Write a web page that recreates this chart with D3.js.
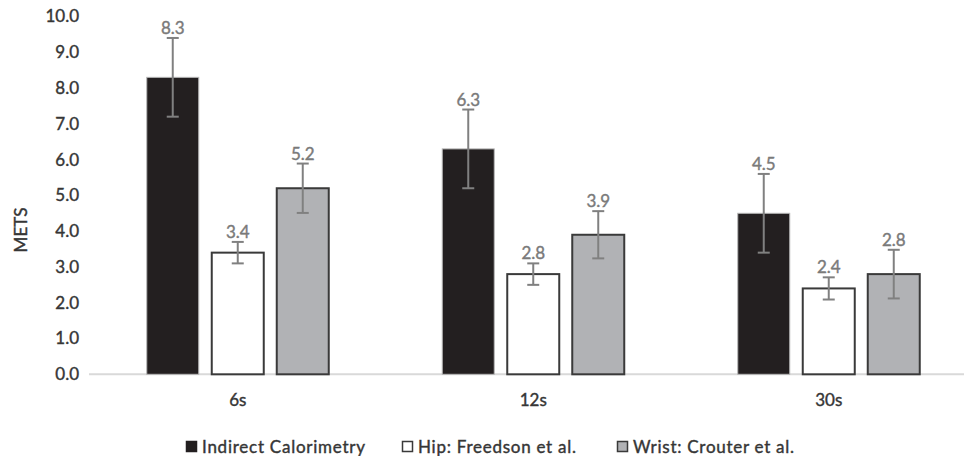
<!DOCTYPE html>
<html>
<head>
<meta charset="utf-8">
<script src="https://cdn.jsdelivr.net/npm/d3@7"></script>
<style>
  html, body { margin: 0; padding: 0; background: #fff; }
  svg text { font-family: Lato, "Open Sans", sans-serif; }
</style>
</head>
<body>
<svg id="chart" width="964" height="456"></svg>
<script>
// Measurement windows
const categories = ["6s", "12s", "30s"];
// Methods compared
const seriesNames = ["Indirect Calorimetry", "Hip: Freedson et al.", "Wrist: Crouter et al."];
// Mean METs per method, one array per method, in category order
const calorimetry = [8.3, 6.3, 4.5];
const hipFreedson = [3.4, 2.8, 2.4];
const wristCrouter = [5.2, 3.9, 2.8];
// Standard deviations (error bars)
const calorimetrySd = [1.1, 1.1, 1.1];
const hipFreedsonSd = [0.3, 0.3, 0.31];
const wristCrouterSd = [0.69, 0.66, 0.68];
// Y axis ticks
const yTicks = [0, 1, 2, 3, 4, 5, 6, 7, 8, 9, 10];

const seriesValues = [calorimetry, hipFreedson, wristCrouter];
const seriesSd = [calorimetrySd, hipFreedsonSd, wristCrouterSd];

const fills = ["#231f20", "#ffffff", "#b1b2b5"];
const strokes = ["#b8b8b8", "#3a3a3a", "#3a3a3a"];
const textDark = "#363636";

const svg = d3.select("#chart");

const y = d3.scaleLinear().domain([0, 10]).range([374.3, 16.5]);
const x0 = d3.scaleBand().domain(categories).range([90, 976.5]).padding(0);
const x1 = d3.scaleBand().domain(seriesNames).range([-97.5, 97.5])
  .paddingInner(0.2).paddingOuter(0.1);

// Slightly heavier text strokes, like the original office rendering
const heavy = sel => sel.attr("stroke", function () { return d3.select(this).attr("fill"); })
  .attr("stroke-width", 0.4);

// Y tick labels (no axis line or gridlines)
const yAxis = d3.axisLeft(y).tickValues(yTicks).tickFormat(d3.format(".1f")).tickSize(0).tickPadding(0);
const gy = svg.append("g").attr("transform", "translate(79,0)").call(yAxis);
gy.select(".domain").remove();
gy.selectAll("text")
  .attr("fill", textDark)
  .attr("font-size", 17)
  .attr("font-family", "Lato, 'Open Sans', sans-serif")
  .call(heavy);

// Y axis title
svg.append("text")
  .attr("transform", "translate(27,230) rotate(-90)")
  .attr("text-anchor", "middle")
  .attr("fill", textDark)
  .attr("font-size", 17)
  .text("METS")
  .call(heavy);

// Baseline
svg.append("line")
  .attr("x1", 89).attr("x2", 964)
  .attr("y1", y(0)).attr("y2", y(0))
  .attr("stroke", "#d9d9d9").attr("stroke-width", 2);

// Bars, error bars and value labels
const rows = [];
categories.forEach((c, ci) => {
  seriesNames.forEach((s, si) => {
    rows.push({ c, s, si, v: seriesValues[si][ci], sd: seriesSd[si][ci] });
  });
});

const cx = d => x0(d.c) + x0.bandwidth() / 2;

const g = svg.append("g");
g.selectAll("rect.bar").data(rows).join("rect")
  .attr("class", "bar")
  .attr("x", d => cx(d) + x1(d.s))
  .attr("width", x1.bandwidth())
  .attr("y", d => y(d.v))
  .attr("height", d => y(0) - y(d.v))
  .attr("fill", d => fills[d.si])
  .attr("stroke", d => strokes[d.si])
  .attr("stroke-width", d => d.si === 0 ? 1 : 2);

const mid = d => cx(d) + x1(d.s) + x1.bandwidth() / 2;
const eb = g.selectAll("g.err").data(rows).join("g").attr("class", "err")
  .attr("stroke", "#808080").attr("stroke-width", 2);
eb.append("line").attr("x1", mid).attr("x2", mid)
  .attr("y1", d => y(d.v + d.sd)).attr("y2", d => y(d.v - d.sd));
eb.append("line").attr("x1", d => mid(d) - 6).attr("x2", d => mid(d) + 6)
  .attr("y1", d => y(d.v + d.sd)).attr("y2", d => y(d.v + d.sd));
eb.append("line").attr("x1", d => mid(d) - 6).attr("x2", d => mid(d) + 6)
  .attr("y1", d => y(d.v - d.sd)).attr("y2", d => y(d.v - d.sd));

g.selectAll("text.val").data(rows).join("text")
  .attr("class", "val")
  .attr("x", mid)
  .attr("y", d => y(d.v + d.sd) - 4)
  .attr("text-anchor", "middle")
  .attr("fill", "#7a7a7a")
  .attr("font-size", 17)
  .text(d => d3.format(".1f")(d.v))
  .call(heavy);

// Category labels
const xAxis = d3.axisBottom(x0).tickSize(0).tickPadding(0);
const gx = svg.append("g").attr("transform", "translate(0,394)").call(xAxis);
gx.select(".domain").remove();
gx.selectAll("text")
  .attr("fill", textDark)
  .attr("font-size", 17)
  .attr("font-family", "Lato, 'Open Sans', sans-serif")
  .call(heavy);

// Legend
const legendX = [186, 402, 617];
const legend = svg.append("g");
seriesNames.forEach((s, i) => {
  legend.append("rect")
    .attr("x", legendX[i] + 0.5).attr("y", 441.5)
    .attr("width", 10).attr("height", 10)
    .attr("fill", fills[i])
    .attr("stroke", i === 0 ? "#231f20" : "#3a3a3a")
    .attr("stroke-width", 1.5);
  legend.append("text")
    .attr("x", legendX[i] + 16).attr("y", 452.5)
    .attr("fill", textDark)
    .attr("font-size", 17)
    .attr("textLength", [163, 158, 161][i])
    .attr("lengthAdjust", "spacing")
    .text(s)
    .call(heavy);
});
</script>
</body>
</html>
